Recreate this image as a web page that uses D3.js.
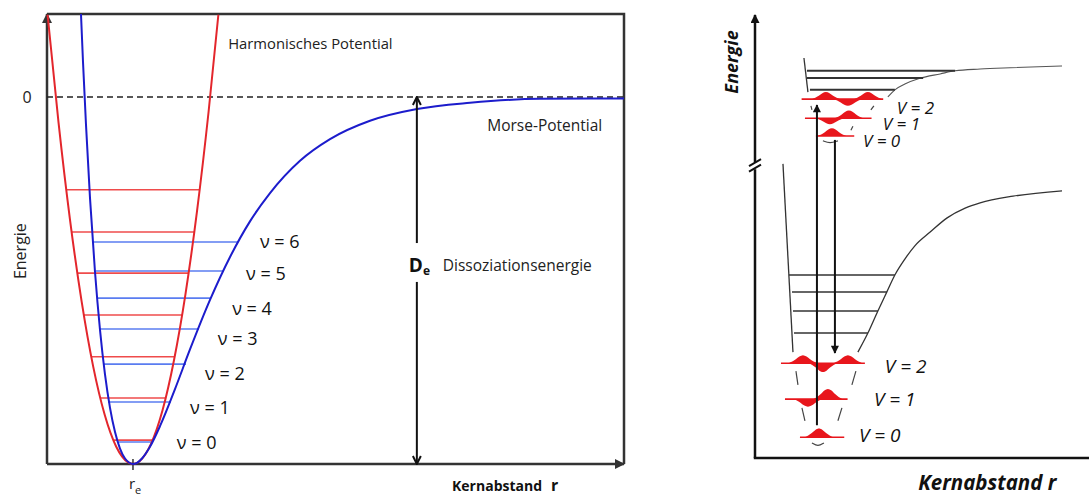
<!DOCTYPE html>
<html><head><meta charset="utf-8">
<script src="https://cdn.jsdelivr.net/npm/d3@7"></script>
<style>body{margin:0;background:#fff}svg{display:block;font-family:"Open Sans",sans-serif}</style>
</head><body>
<svg id="c" width="1089" height="498"></svg>
<script>
// ---------------- LEFT PANEL DATA (r in % of width, E in % of De) ----------------
const morseR = [5.89, 6.24, 6.76, 7.45, 8.32, 9.19, 10.05, 10.92, 11.79, 12.65, 13.52, 14.21, 14.90, 15.60, 16.46, 17.85, 19.58, 22.18, 24.78, 28.25, 31.72, 35.18, 38.65, 43.85, 49.05, 55.98, 64.12, 73.31, 85.44, 100];
const morseE = [22.6, 9.5, -7.6, -27.5, -47.7, -63.5, -75.6, -84.7, -91.3, -95.8, -98.5, -99.6, -100, -99.7, -98.5, -95.3, -89.7, -79.6, -68.8, -55.3, -43.6, -33.9, -26.2, -17.4, -11.5, -6.5, -3.3, -1.6, -0.5, -0.4];
const harmR = [0.1, 2, 4, 6, 8, 10, 12, 14, 14.9, 16, 18, 20, 22, 24, 26, 28, 29.7];
const harmE = [22.4, -7.0, -33.6, -55.7, -73.4, -86.6, -95.3, -99.5, -100, -99.3, -94.6, -85.5, -71.8, -53.7, -31.1, -4.1, 22.4];
const harmLevelE = [-93.5, -82.0, -70.8, -59.4, -48.0, -36.8, -25.3];
const harmLevelL = [11.49, 9.22, 7.67, 6.38, 5.25, 4.27, 3.34];
const harmLevelR = [18.31, 20.58, 22.13, 23.42, 24.55, 25.53, 26.46];
const morseLevelE = [-94.0, -83.1, -72.8, -63.2, -54.8, -47.4, -39.5];
const morseLevelL = [12.31, 10.57, 9.71, 9.19, 8.84, 8.49, 7.97];
const morseLevelR = [18.37, 21.49, 24.09, 26.34, 28.25, 30.68, 33.10];
const nuLabels = ["ν = 0", "ν = 1", "ν = 2", "ν = 3", "ν = 4", "ν = 5", "ν = 6"];
const nuLabelR = [22.5, 24.8, 27.4, 29.6, 32.1, 34.5, 36.9];
const nuLabelE = [-94.0, -84.5, -75.2, -65.7, -57.5, -48.0, -39.2];
const rEq = 14.9;
const dissE = [0, -100];
const deArrowR = 64.1;
const deGapE = [-39.8, -50.4];

// ---------------- RIGHT PANEL DATA (schematic units 0..100) ----------------
const lowerWallR = [8.4, 11.4], lowerWallE = [66.4, 23.9];
const lowerCurveR = [30.9, 33.9, 36.9, 39.6, 42.0, 45.0, 48.0, 52.6, 57.7, 63.1, 67.6, 77.5, 92.2];
const lowerCurveE = [23.9, 28.2, 33.2, 37.5, 41.3, 44.9, 47.9, 51.0, 54.2, 56.4, 57.6, 59.1, 60.3];
const lowerLevelE = [28.2, 33.2, 37.5, 41.3];
const lowerLevelL = [11.7, 11.4, 11.1, 10.2];
const lowerLevelR = [33.9, 36.9, 39.6, 42.0];
const upperWallR = [14.7, 15.9], upperWallE = [90.3, 82.6];
const upperCurveR = [39.9, 42.0, 45.0, 49.5, 55.6, 60.1, 67.6, 76.6, 92.2];
const upperCurveE = [81.5, 83.1, 84.4, 85.7, 86.7, 87.4, 87.8, 88.1, 88.5];
const upperLevelE = [83.1, 85.8, 87.4];
const upperLevelL = [16.5, 15.6, 15.6];
const upperLevelR = [42.0, 50.5, 60.1];
// wavefunctions: baseline, extent, lobes [centre, amplitude]
const upperWaveBase = [72.7, 76.7, 81.0];
const upperWaveFrom = [18.3, 15.0, 14.0];
const upperWaveTo = [29.8, 35.0, 38.5];
const upperLobes = [[[23.1, 1.75]], [[22.5, -1.35], [28.2, 1.75]], [[21.3, 1.6], [27.9, -1.5], [33.9, 1.6]]];
const lowerWaveBase = [4.7, 13.3, 21.4];
const lowerWaveFrom = [13.5, 9.0, 7.8];
const lowerWaveTo = [26.8, 27.8, 33.0];
const lowerLobes = [[[19.2, 1.95]], [[15.9, -1.75], [21.9, 2.3]], [[14.4, 1.8], [20.4, -2.0], [27.9, 1.8]]];
const vLabels = ["V = 0", "V = 1", "V = 2"];
const upperLabelR = [32.4, 38.4, 42.6], upperLabelE = [71.6, 75.4, 79.2];
const lowerLabelR = [31.2, 35.7, 39.0], lowerLabelE = [5.2, 13.3, 20.8];
const transR = [18.6, 24.0], transFromE = [7.4, 71.8], transToE = [79.7, 23.7];
const breakE = 66.1;
// dashed harmonic guide segments [r1,E1,r2,E2]
const guideSegs = [
  [12.3, 19.6, 12.9, 16.5], [30.3, 19.6, 29.1, 16.5],
  [14.1, 11.3, 15.0, 8.4], [26.1, 11.3, 24.9, 8.4],
  [16.8, 79.5, 17.1, 78.6], [35.7, 79.5, 34.8, 78.6], [29.4, 74.9, 28.8, 74.0]
];
const guideArcs = [[[17.1, 3.4], [18.9, 2.6], [20.7, 3.4]], [[20.4, 71.6], [22.5, 71.0], [24.9, 71.6]]];

// ---------------- DRAW ----------------
const svg = d3.select("#c");
const xL = d3.scaleLinear([0, 100], [47, 624]);
const yL = d3.scaleLinear([-100, 22.6], [464, 14]);
const xR = d3.scaleLinear([0, 100], [755, 1088]);
const yR = d3.scaleLinear([0, 100], [458, 15]);

const defs = svg.append("defs");
function triMarker(id, w, h, color) {
  defs.append("marker").attr("id", id).attr("viewBox", "0 0 10 10").attr("refX", 9).attr("refY", 5)
    .attr("markerUnits", "userSpaceOnUse").attr("markerWidth", w).attr("markerHeight", h).attr("orient", "auto")
    .append("path").attr("d", "M0,0L10,5L0,10Z").attr("fill", color);
}
triMarker("triL", 12, 10, "#333");
triMarker("triR", 10, 9, "#111");
triMarker("triS", 9, 8, "#111");
defs.append("marker").attr("id", "chev").attr("viewBox", "0 0 10 10").attr("refX", 9).attr("refY", 5)
  .attr("markerUnits", "userSpaceOnUse").attr("markerWidth", 10).attr("markerHeight", 10).attr("orient", "auto")
  .append("path").attr("d", "M1,1L9,5L1,9").attr("fill", "none").attr("stroke", "#111").attr("stroke-width", 2);

const gL = svg.append("g");
// frame
gL.append("path").attr("d", `M${xL(0)},${yL(22.6)}H${xL(100)}V${yL(-100)}`).attr("fill", "none").attr("stroke", "#333").attr("stroke-width", 2.5);
gL.append("line").attr("x1", xL(0)).attr("y1", yL(-100)).attr("x2", xL(0)).attr("y2", yL(22.6))
  .attr("stroke", "#333").attr("stroke-width", 2.5).attr("marker-end", "url(#triL)");
gL.append("line").attr("x1", xL(0)).attr("y1", yL(-100)).attr("x2", xL(100)).attr("y2", yL(-100))
  .attr("stroke", "#333").attr("stroke-width", 2.5).attr("marker-end", "url(#triL)");
// zero line
gL.append("line").attr("x1", xL(0)).attr("x2", xL(100)).attr("y1", yL(0)).attr("y2", yL(0))
  .attr("stroke", "#222").attr("stroke-width", 1.5).attr("stroke-dasharray", "6,4");
// r_e tick
gL.append("line").attr("x1", xL(rEq)).attr("x2", xL(rEq)).attr("y1", yL(-100) - 5).attr("y2", yL(-100) + 6)
  .attr("stroke", "#333").attr("stroke-width", 1.5);

// levels
harmLevelE.forEach((e, i) => gL.append("line").attr("x1", xL(harmLevelL[i])).attr("x2", xL(harmLevelR[i]))
  .attr("y1", yL(e)).attr("y2", yL(e)).attr("stroke", "#ef4b4b").attr("stroke-width", 1.6));
morseLevelE.forEach((e, i) => gL.append("line").attr("x1", xL(morseLevelL[i])).attr("x2", xL(morseLevelR[i]))
  .attr("y1", yL(e)).attr("y2", yL(e)).attr("stroke", "#5a7cf0").attr("stroke-width", 1.6));

const lineL = d3.line().x(d => xL(d[0])).y(d => yL(d[1])).curve(d3.curveMonotoneX);
gL.append("path").attr("d", lineL(d3.zip(harmR, harmE))).attr("fill", "none").attr("stroke", "#e3262c").attr("stroke-width", 2);
gL.append("path").attr("d", lineL(d3.zip(morseR, morseE))).attr("fill", "none").attr("stroke", "#1c1ccc").attr("stroke-width", 2);

// D_e arrow
gL.append("line").attr("x1", xL(deArrowR)).attr("x2", xL(deArrowR)).attr("y1", yL(deGapE[0])).attr("y2", yL(dissE[0]))
  .attr("stroke", "#111").attr("stroke-width", 2).attr("marker-end", "url(#chev)");
gL.append("line").attr("x1", xL(deArrowR)).attr("x2", xL(deArrowR)).attr("y1", yL(deGapE[1])).attr("y2", yL(dissE[1]))
  .attr("stroke", "#111").attr("stroke-width", 2).attr("marker-end", "url(#chev)");

// texts
const txt = (g, x, y, s, size, opts = {}) => g.append("text").attr("x", x).attr("y", y).attr("font-size", size)
  .attr("fill", opts.fill || "#222").attr("dominant-baseline", "central").attr("text-anchor", opts.anchor || "start")
  .attr("font-weight", opts.weight || 400).attr("font-style", opts.style || "normal").text(s);
txt(gL, xL(0) - 20, yL(0), "0", 16, { anchor: "middle" });
gL.append("text").attr("transform", `translate(${xL(0) - 27},${yL(-42)}) rotate(-90)`).attr("text-anchor", "middle")
  .attr("dominant-baseline", "central").attr("font-size", 16).attr("fill", "#222").text("Energie");
txt(gL, xL(31.4), yL(14.7), "Harmonisches Potential", 14.8);
txt(gL, xL(76.3), yL(-7.6), "Morse-Potential", 15.5);
txt(gL, xL(68.6), yL(-45.8), "Dissoziationsenergie", 15.5);
const de = gL.append("text").attr("x", xL(deArrowR) - 8).attr("y", yL(-45.8)).attr("dominant-baseline", "central")
  .attr("font-weight", 700).attr("font-size", 19).attr("fill", "#111");
de.append("tspan").text("D");
de.append("tspan").attr("font-size", 12).attr("dy", 5).text("e");
const kl = gL.append("text").attr("x", xL(70.2)).attr("y", yL(-100) + 21).attr("dominant-baseline", "central")
  .attr("font-weight", 700).attr("font-size", 14).attr("fill", "#111");
kl.append("tspan").text("Kernabstand");
kl.append("tspan").attr("dx", 9).attr("font-size", 16).text("r");
const rt = gL.append("text").attr("x", xL(rEq) - 4).attr("y", yL(-100) + 19).attr("dominant-baseline", "central")
  .attr("font-size", 15).attr("fill", "#222");
rt.append("tspan").text("r");
rt.append("tspan").attr("font-size", 11).attr("dy", 6).text("e");
nuLabels.forEach((s, i) => txt(gL, xL(nuLabelR[i]), yL(nuLabelE[i]), s, 18, { fill: "#111" }));

// ---------------- RIGHT PANEL ----------------
const gR = svg.append("g");
const lineR = d3.line().x(d => xR(d[0])).y(d => yR(d[1])).curve(d3.curveMonotoneX);
const lineRL = d3.line().x(d => xR(d[0])).y(d => yR(d[1]));
// axes
gR.append("line").attr("x1", xR(0)).attr("x2", xR(0)).attr("y1", yR(0)).attr("y2", yR(breakE) + 4).attr("stroke", "#111").attr("stroke-width", 2.5);
gR.append("line").attr("x1", xR(0)).attr("x2", xR(0)).attr("y1", yR(breakE) - 3).attr("y2", yR(100))
  .attr("stroke", "#111").attr("stroke-width", 2.5).attr("marker-end", "url(#triR)");
[-2.5, 3].forEach(o => gR.append("line").attr("x1", xR(0) - 6).attr("x2", xR(0) + 6)
  .attr("y1", yR(breakE) + o + 3.5).attr("y2", yR(breakE) + o - 3.5).attr("stroke", "#111").attr("stroke-width", 2));
gR.append("line").attr("x1", xR(0) - 1.2).attr("x2", 1089).attr("y1", yR(0)).attr("y2", yR(0)).attr("stroke", "#111").attr("stroke-width", 2.5);

// potentials
gR.append("path").attr("d", lineRL(d3.zip(lowerWallR, lowerWallE))).attr("stroke", "#333").attr("stroke-width", 1.3).attr("fill", "none");
gR.append("path").attr("d", lineR(d3.zip(lowerCurveR, lowerCurveE))).attr("stroke", "#333").attr("stroke-width", 1.3).attr("fill", "none");
gR.append("path").attr("d", lineRL(d3.zip(upperWallR, upperWallE))).attr("stroke", "#333").attr("stroke-width", 1.3).attr("fill", "none");
gR.append("path").attr("d", lineR(d3.zip(upperCurveR, upperCurveE))).attr("stroke", "#555").attr("stroke-width", 1.1).attr("fill", "none");
lowerLevelE.forEach((e, i) => gR.append("line").attr("x1", xR(lowerLevelL[i])).attr("x2", xR(lowerLevelR[i]))
  .attr("y1", yR(e)).attr("y2", yR(e)).attr("stroke", "#333").attr("stroke-width", 1.5));
upperLevelE.forEach((e, i) => gR.append("line").attr("x1", xR(upperLevelL[i])).attr("x2", xR(upperLevelR[i]))
  .attr("y1", yR(e)).attr("y2", yR(e)).attr("stroke", "#333").attr("stroke-width", 2));

// dashed guides
guideSegs.forEach(s => gR.append("line").attr("x1", xR(s[0])).attr("y1", yR(s[1])).attr("x2", xR(s[2])).attr("y2", yR(s[3]))
  .attr("stroke", "#444").attr("stroke-width", 1.2));
guideArcs.forEach(a => gR.append("path").attr("d", d3.line().x(d => xR(d[0])).y(d => yR(d[1])).curve(d3.curveBasis)(a))
  .attr("fill", "none").attr("stroke", "#444").attr("stroke-width", 1.2));

// wavefunctions
const lobeT = [-1, -0.75, -0.5, -0.25, 0, 0.25, 0.5, 0.75, 1];
const lobeH = [0, 0.2, 0.49, 0.84, 1, 0.84, 0.49, 0.2, 0];
const lobeHW = 4.3;
function drawWaves(base, from, to, lobes) {
  base.forEach((b, i) => {
    gR.append("line").attr("x1", xR(from[i])).attr("x2", xR(to[i])).attr("y1", yR(b)).attr("y2", yR(b))
      .attr("stroke", "#e8161c").attr("stroke-width", 1.6);
    lobes[i].forEach(([c, a]) => {
      const pts = lobeT.map((t, k) => [c + t * lobeHW, b + lobeH[k] * a]);
      const ar = d3.area().x(d => xR(d[0])).y0(yR(b)).y1(d => yR(d[1])).curve(d3.curveMonotoneX);
      gR.append("path").attr("d", ar(pts)).attr("fill", "#e8161c");
    });
  });
}
drawWaves(upperWaveBase, upperWaveFrom, upperWaveTo, upperLobes);
drawWaves(lowerWaveBase, lowerWaveFrom, lowerWaveTo, lowerLobes);

// transitions
transR.forEach((r, i) => gR.append("line").attr("x1", xR(r)).attr("x2", xR(r)).attr("y1", yR(transFromE[i])).attr("y2", yR(transToE[i]))
  .attr("stroke", "#111").attr("stroke-width", 2).attr("marker-end", "url(#triS)"));

// labels
vLabels.forEach((s, i) => {
  txt(gR, xR(upperLabelR[i]), yR(upperLabelE[i]), s, 17, { style: "italic", fill: "#111" });
  txt(gR, xR(lowerLabelR[i]), yR(lowerLabelE[i]), s, 19, { style: "italic", fill: "#111" });
});
gR.append("text").attr("transform", `translate(${xR(0) - 24},${yR(89.4)}) rotate(-90)`).attr("text-anchor", "middle")
  .attr("dominant-baseline", "central").attr("font-size", 18).attr("font-weight", 700).attr("font-style", "italic")
  .attr("fill", "#111").text("Energie");
txt(gR, xR(49), yR(0) + 24, "Kernabstand r", 20.5, { weight: 700, style: "italic", fill: "#111" });
</script>
</body></html>
